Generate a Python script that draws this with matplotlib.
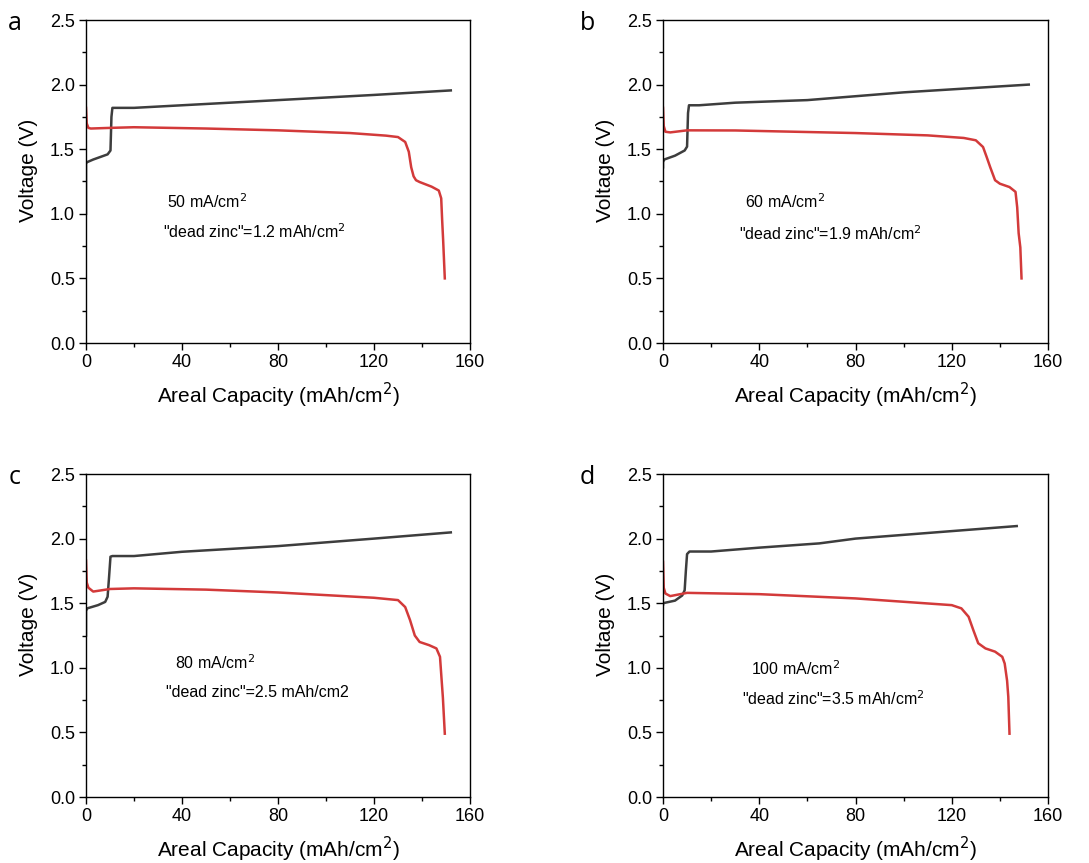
import numpy as np
import matplotlib
matplotlib.use("Agg")
import matplotlib.pyplot as plt
from matplotlib.ticker import MultipleLocator

plt.rcParams['font.family'] = ['Liberation Sans', 'DejaVu Sans']

# panel a, 50 mA/cm2
a_chg_x = [0, 0, 0.5, 3, 6, 9, 10.2, 10.6, 11, 15, 20, 40, 80, 120, 152]
a_chg_y = [1.0, 1.39, 1.40, 1.42, 1.44, 1.46, 1.49, 1.75, 1.82, 1.82, 1.82, 1.84, 1.88, 1.92, 1.955]
a_dis_x = [0, 0.3, 1, 2, 10, 20, 50, 80, 110, 125, 130, 133, 134.5, 135.5, 136.5, 137.5, 139, 144,
           147, 148, 148.4, 148.8, 149.5]
a_dis_y = [1.82, 1.70, 1.665, 1.66, 1.665, 1.67, 1.66, 1.646, 1.625, 1.605, 1.594, 1.556, 1.48, 1.36,
           1.29, 1.26, 1.246, 1.21, 1.18, 1.12, 0.95, 0.80, 0.50]

# panel b, 60 mA/cm2
b_chg_x = [0, 0, 0.5, 5, 9, 10, 10.4, 10.8, 15, 30, 60, 100, 152]
b_chg_y = [1.36, 1.40, 1.42, 1.45, 1.49, 1.52, 1.78, 1.84, 1.84, 1.86, 1.88, 1.94, 2.0]
b_dis_x = [0, 0.3, 1, 3, 10, 30, 80, 110, 125, 130, 133, 134.5, 136, 138, 140, 144, 146.5,
           147.2, 147.8, 148.5, 149]
b_dis_y = [1.82, 1.68, 1.635, 1.63, 1.646, 1.645, 1.625, 1.607, 1.587, 1.569, 1.517, 1.44, 1.36,
           1.26, 1.233, 1.207, 1.17, 1.05, 0.85, 0.74, 0.50]

# panel c, 80 mA/cm2
c_chg_x = [0, 0, 0.5, 5, 8, 9, 9.6, 10.2, 11, 20, 40, 80, 120, 152]
c_chg_y = [1.25, 1.44, 1.46, 1.485, 1.51, 1.55, 1.70, 1.86, 1.865, 1.865, 1.898, 1.942, 2.0, 2.048]
c_dis_x = [0, 0.3, 1, 3, 10, 20, 50, 80, 120, 130, 133, 135, 137, 139, 143, 146, 147.5, 148.2,
           148.7, 149.5]
c_dis_y = [1.83, 1.66, 1.62, 1.59, 1.61, 1.615, 1.605, 1.583, 1.542, 1.524, 1.47, 1.37, 1.25, 1.20,
           1.175, 1.15, 1.085, 0.90, 0.77, 0.49]

# panel d, 100 mA/cm2
d_chg_x = [0, 0, 5, 8, 9, 9.5, 10, 11, 20, 40, 65, 80, 120, 147]
d_chg_y = [1.49, 1.50, 1.52, 1.56, 1.60, 1.75, 1.88, 1.90, 1.90, 1.93, 1.963, 2.0, 2.058, 2.097]
d_dis_x = [0, 0.3, 1, 3, 10, 40, 80, 120, 124, 127, 129, 131, 134, 138, 141, 142, 143, 143.5, 144]
d_dis_y = [1.82, 1.62, 1.575, 1.555, 1.58, 1.57, 1.537, 1.485, 1.46, 1.395, 1.29, 1.19, 1.15, 1.125,
           1.085, 1.033, 0.90, 0.775, 0.49]

panel_tags = ['a', 'b', 'c', 'd']
currents = ['50 mA/cm$^2$', '60 mA/cm$^2$', '80 mA/cm$^2$', '100 mA/cm$^2$']
dead_zinc = ['"dead zinc"=1.2 mAh/cm$^2$', '"dead zinc"=1.9 mAh/cm$^2$',
             '"dead zinc"=2.5 mAh/cm2', '"dead zinc"=3.5 mAh/cm$^2$']

charge = [(a_chg_x, a_chg_y), (b_chg_x, b_chg_y), (c_chg_x, c_chg_y), (d_chg_x, d_chg_y)]
discharge = [(a_dis_x, a_dis_y), (b_dis_x, b_dis_y), (c_dis_x, c_dis_y), (d_dis_x, d_dis_y)]

W, H = 1089, 863
fig = plt.figure(figsize=(W / 100, H / 100), dpi=100)

# axes boxes in pixels: left, top, right, bottom
boxes = [(86, 20, 470, 343), (663, 20, 1048, 343), (86, 474, 470, 797), (663, 474, 1048, 797)]
txt_pos = [((0.211, 0.437), (0.20, 0.344)),
           ((0.213, 0.437), (0.197, 0.34)),
           ((0.232, 0.415), (0.208, 0.322)),
           ((0.229, 0.396), (0.205, 0.303))]

for i in range(4):
    l, t, r, b = boxes[i]
    ax = fig.add_axes([l / W, 1 - b / H, (r - l) / W, (b - t) / H])
    ax.plot(*charge[i], color='#3d3d3d', lw=1.8, solid_joinstyle='round')
    ax.plot(*discharge[i], color='#d33a3a', lw=1.8, solid_joinstyle='round')
    ax.set_xlim(0, 160)
    ax.set_ylim(0, 2.5)
    ax.xaxis.set_major_locator(MultipleLocator(40))
    ax.xaxis.set_minor_locator(MultipleLocator(20))
    ax.yaxis.set_major_locator(MultipleLocator(0.5))
    ax.yaxis.set_minor_locator(MultipleLocator(0.25))
    ax.yaxis.set_major_formatter(matplotlib.ticker.FormatStrFormatter('%.1f'))
    ax.tick_params(which='major', direction='out', length=5, width=1, labelsize=13, pad=3)
    ax.tick_params(which='minor', direction='out', length=3, width=1)
    for s in ax.spines.values():
        s.set_linewidth(1.0)
    ax.set_xlabel('Areal Capacity (mAh/cm$^2$)', fontsize=15, labelpad=7)
    ax.set_ylabel('Voltage (V)', fontsize=15)
    ax.yaxis.set_label_coords(-0.125, 0.535)
    (x1, y1), (x2, y2) = txt_pos[i]
    ax.text(x1, y1, currents[i], transform=ax.transAxes, fontsize=11.5, va='center', ha='left')
    ax.text(x2, y2, dead_zinc[i], transform=ax.transAxes, fontsize=11.5, va='center', ha='left')
    tag_x = 15 if i % 2 == 0 else 587
    fig.text(tag_x / W, 1 - (t + 3) / H, panel_tags[i], fontsize=18, family='Open Sans',
             ha='center', va='center')

fig.savefig('out.png', dpi=100)
